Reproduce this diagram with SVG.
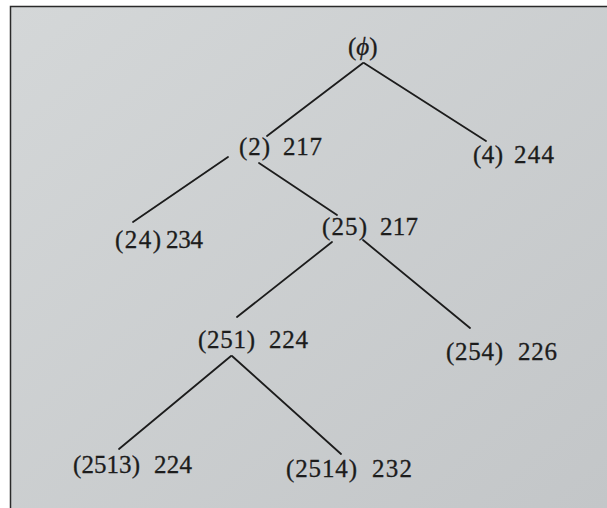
<svg xmlns="http://www.w3.org/2000/svg" width="607" height="508" viewBox="0 0 607 508">
<defs>
<style>
.t{font-family:"Liberation Serif","Times New Roman",serif;font-size:25px;fill:#1c1c1c;stroke:#1c1c1c;stroke-width:0.3}
.e{stroke:#1c1c1c;stroke-width:1.8;fill:none;stroke-linecap:round}
</style>
<linearGradient id="bg" x1="0" y1="0" x2="1" y2="1">
<stop offset="0" stop-color="#d4d7d8"/>
<stop offset="1" stop-color="#c3c6c8"/>
</linearGradient>
</defs>
<rect width="607" height="508" fill="#ffffff"/>
<rect x="10" y="6" width="597" height="502" fill="url(#bg)"/>
<path d="M10.5 508 V6.5 H607" stroke="#2a2a2a" stroke-width="1.5" fill="none"/>
<g id="connectors">
<line class="e" x1="363" y1="63" x2="267" y2="136"/>
<line class="e" x1="364" y1="63" x2="486" y2="141"/>
<line class="e" x1="228" y1="157" x2="133" y2="222"/>
<line class="e" x1="259" y1="163" x2="337" y2="215"/>
<line class="e" x1="332" y1="242" x2="237" y2="317"/>
<line class="e" x1="363" y1="240" x2="470" y2="328"/>
<line class="e" x1="231" y1="356" x2="119" y2="449"/>
<line class="e" x1="232" y1="356" x2="341" y2="454"/>
</g>
<g id="n-root"><text class="t" x="348" y="55">(<tspan font-style="italic">ϕ</tspan>)</text></g>
<g id="n-2"><text class="t" x="239" y="155" textLength="31" lengthAdjust="spacing">(2)</text><text class="t" x="283" y="155" textLength="39" lengthAdjust="spacing">217</text></g>
<g id="n-4"><text class="t" x="473" y="163" textLength="30" lengthAdjust="spacing">(4)</text><text class="t" x="514" y="163" textLength="40" lengthAdjust="spacing">244</text></g>
<g id="n-24"><text class="t" x="115" y="248" textLength="46" lengthAdjust="spacing">(24)</text><text class="t" x="166" y="248" textLength="37" lengthAdjust="spacing">234</text></g>
<g id="n-25"><text class="t" x="322" y="235" textLength="45" lengthAdjust="spacing">(25)</text><text class="t" x="380" y="235" textLength="38" lengthAdjust="spacing">217</text></g>
<g id="n-251"><text class="t" x="198" y="348" textLength="57" lengthAdjust="spacing">(251)</text><text class="t" x="269" y="348" textLength="39" lengthAdjust="spacing">224</text></g>
<g id="n-254"><text class="t" x="446" y="360" textLength="57" lengthAdjust="spacing">(254)</text><text class="t" x="518" y="360" textLength="39" lengthAdjust="spacing">226</text></g>
<g id="n-2513"><text class="t" x="73" y="473" textLength="67" lengthAdjust="spacing">(2513)</text><text class="t" x="154" y="473" textLength="38" lengthAdjust="spacing">224</text></g>
<g id="n-2514"><text class="t" x="286" y="477" textLength="71" lengthAdjust="spacing">(2514)</text><text class="t" x="372" y="477" textLength="40" lengthAdjust="spacing">232</text></g>
</svg>
